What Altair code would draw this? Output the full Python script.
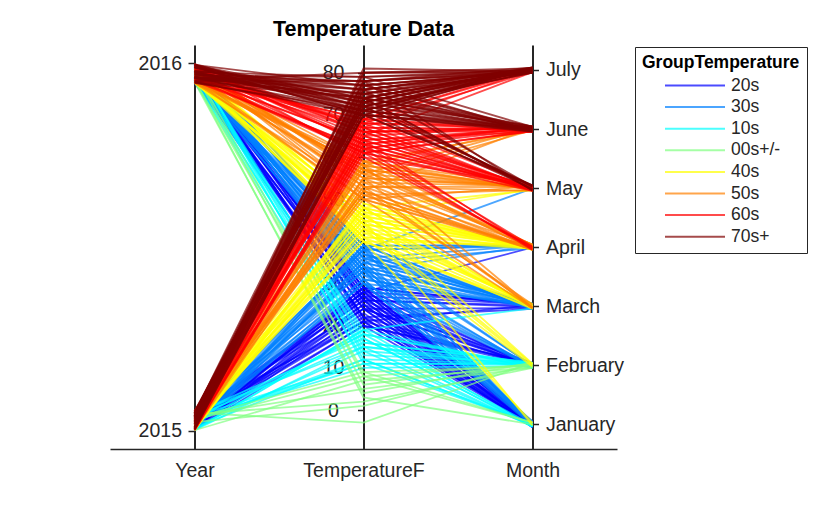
import altair as alt
import pandas as pd
import json

# ---------------- data ----------------
AXES = ["Year", "TemperatureF", "Month"]
MONTHS = ["January", "February", "March", "April", "May", "June", "July"]
GROUPS = ["20s", "30s", "10s", "00s+/-", "40s", "50s", "60s", "70s+"]
COLORS = ["#0000ff", "#0080ff", "#00ffff", "#80ff80", "#ffff00", "#ff8000", "#ff0000", "#800000"]

T2015 = {
    "January":  [28, 22, 35, 18, 31, 25, 12, 27, 40, 20, 33, 15, 24, 30, 8, 26, 21, 29, 17, 34, 23, 11],
    "February": [14, 5, 20, 10, -3, 18, 24, 2, 12, 28, 16, 7, 21, 33, 11, 43, 9, 25, 15, 1, 19, 30],
    "March":    [30, 36, 27, 42, 33, 24, 45, 38, 29, 48, 35, 19, 40, 31, 52, 37, 26, 43, 34, 21, 39, 46],
    "April":    [44, 50, 38, 47, 55, 41, 60, 52, 46, 35, 57, 49, 63, 43, 53, 28, 51, 39, 58, 45, 62, 48],
    "May":      [58, 63, 55, 67, 72, 51, 61, 65, 76, 57, 69, 48, 62, 74, 54, 38, 64, 70, 59, 73, 53, 66],
    "June":     [66, 71, 62, 74, 68, 59, 77, 64, 70, 55, 73, 61, 69, 75, 52, 67, 72, 65, 78, 63, 70, 74],
    "July":     [73, 77, 70, 80, 75, 68, 79, 72, 76, 71, 78, 65, 74, 81, 69, 73, 76, 71, 80, 74, 78, 72],
}
T2016 = {
    "January":  [30, 24, 36, 17, 27, 33, 21, 9, 29, 38, 14, 25, 45, 31, 19, 3, 26, 34, 12, 28, 39, 22],
    "February": [18, 26, 11, 32, 4, 22, 37, 15, 41, 8, 29, 13, 24, 47, 34, 20, 30, 16, 38, 6, 27, 44],
    "March":    [34, 41, 29, 46, 37, 53, 32, 44, 39, 26, 50, 36, 58, 43, 22, 31, 40, 28, 48, 35, 55, 33],
    "April":    [42, 48, 39, 54, 45, 61, 50, 36, 57, 47, 64, 40, 52, 33, 49, 44, 46, 56, 41, 59, 51, 38],
    "May":      [56, 61, 53, 66, 59, 71, 63, 50, 68, 57, 74, 60, 46, 65, 78, 62, 64, 70, 58, 72, 67, 55],
    "June":     [64, 69, 72, 61, 75, 67, 70, 58, 73, 66, 77, 63, 71, 56, 76, 68, 70, 74, 62, 79, 66, 71],
    "July":     [72, 76, 74, 79, 70, 77, 73, 80, 75, 67, 78, 71, 74, 76, 72, 69, 75, 73, 78, 71, 77, 74],
}
# categorical jitter (fractions of one category step)
YEAR_JITTER = [0.012, 0.041, 0.005, 0.033, 0.050, 0.021, 0.008, 0.046,
               0.027, 0.015, 0.038, 0.002, 0.053, 0.019, 0.030, 0.044,
               0.036, 0.010, 0.048, 0.024, 0.004, 0.040]
MONTH_JITTER = [0.02, -0.04, 0.035, -0.01, 0.045, -0.03, 0.0, -0.045,
                0.025, -0.02, 0.04, -0.035, 0.01, -0.025, 0.03, -0.005,
                -0.015, 0.042, -0.038, 0.015, -0.048, 0.005]

YEAR_DOMAIN = [2014.951, 2016.05]
TEMP_DOMAIN = [-9.25, 86.58]
MONTH_DOMAIN = [-0.418, 6.423]
TEMP_TICKS = [0, 10, 20, 30, 40, 50, 60, 70, 80]
YEAR_TICKS = [2015, 2016]


def group_of(t):
    if t < 10:
        return "00s+/-"
    if t >= 70:
        return "70s+"
    return f"{int(t // 10) * 10}s"


def norm(v, dom):
    return (v - dom[0]) / (dom[1] - dom[0])


rows = []
lid = 0
for year, table in ((2015, T2015), (2016, T2016)):
    for mi, month in enumerate(MONTHS):
        for k, t in enumerate(table[month]):
            yj = YEAR_JITTER[k]
            yv = year + yj if year == 2015 else year - yj
            mv = mi + (MONTH_JITTER[k] if year == 2015 else MONTH_JITTER[-1 - k])
            g = group_of(t)
            for xi, (val, dom) in enumerate(((yv, YEAR_DOMAIN), (t, TEMP_DOMAIN), (mv, MONTH_DOMAIN))):
                rows.append({"line": lid, "group": g, "gorder": GROUPS.index(g),
                             "axis": xi, "yn": norm(val, dom)})
            lid += 1

df = pd.DataFrame(rows).sort_values(["gorder", "line", "axis"]).reset_index(drop=True)

FONT = "Liberation Sans, Arial, sans-serif"
INK = "#262626"
W, H = 507, 404

lines = alt.Chart(df).mark_line(strokeWidth=1.8, opacity=0.7).encode(
    x=alt.X("axis:Q",
            scale=alt.Scale(domain=[-0.5, 2.5], nice=False, zero=False),
            axis=alt.Axis(values=[0, 1, 2], labelExpr=json.dumps(AXES) + "[datum.value]",
                          ticks=False, tickSize=0, grid=False, title=None,
                          domainColor=INK, domainWidth=1.3, labelFlush=False,
                          labelFontSize=19.5, labelPadding=12, labelColor=INK, labelFont=FONT)),
    y=alt.Y("yn:Q", scale=alt.Scale(domain=[0, 1], nice=False, zero=False), axis=None),
    color=alt.Color("group:N", scale=alt.Scale(domain=GROUPS, range=COLORS),
                    legend=alt.Legend(title="GroupTemperature", orient="none",
                                      legendX=525, legendY=2, padding=7,
                                      strokeColor=INK, fillColor="white",
                                      symbolType="stroke", symbolSize=3600,
                                      symbolStrokeWidth=2, symbolOpacity=0.7,
                                      symbolOffset=22, labelOffset=5,
                                      clipHeight=17, rowPadding=3.6,
                                      titleFontSize=17.5, titleFontWeight="bold",
                                      titleFont=FONT, titleColor="#000000",
                                      titleAnchor="start", titlePadding=5.5,
                                      titleLimit=400, labelLimit=300,
                                      labelFontSize=17.5, labelFont=FONT, labelColor=INK)),
    detail="line:N",
)

common_axis = dict(title=None, grid=False, tickColor=INK, tickWidth=1.5,
                   domainColor=INK, domainWidth=2, labelColor=INK,
                   labelFont=FONT, labelFontSize=19.5, labelFlush=False,
                   labelOverlap=False)

year_axis = alt.Chart(pd.DataFrame({"v": YEAR_TICKS})).mark_point(opacity=0).encode(
    y=alt.Y("v:Q", scale=alt.Scale(domain=YEAR_DOMAIN, nice=False, zero=False),
            axis=alt.Axis(orient="left", offset=-84.5, values=YEAR_TICKS, format="d",
                          tickSize=6.5, labelPadding=6.5, labelAlign="right", **common_axis)),
)
temp_axis = alt.Chart(pd.DataFrame({"v": TEMP_TICKS})).mark_point(opacity=0).encode(
    y=alt.Y("v:Q", scale=alt.Scale(domain=TEMP_DOMAIN, nice=False, zero=False),
            axis=alt.Axis(orient="left", offset=-253.5, values=TEMP_TICKS, format="d",
                          tickSize=6, labelPadding=24.5, labelAlign="center", **common_axis)),
)
month_axis = alt.Chart(pd.DataFrame({"v": list(range(len(MONTHS)))})).mark_point(opacity=0).encode(
    y=alt.Y("v:Q", scale=alt.Scale(domain=MONTH_DOMAIN, nice=False, zero=False),
            axis=alt.Axis(orient="right", offset=-84.5, values=list(range(len(MONTHS))),
                          labelExpr=json.dumps(MONTHS) + "[datum.value]",
                          tickSize=6, labelPadding=7, labelAlign="left", **common_axis)),
)

# separator under the legend title
sep = alt.Chart(pd.DataFrame({"v": [0]})).mark_rule(color=INK, strokeWidth=1).encode(
    x=alt.value(525), x2=alt.value(697), y=alt.value(27),
)

chart = alt.layer(lines, year_axis, temp_axis, month_axis, sep).resolve_scale(
    y="independent"
).properties(
    width=W, height=H,
    title=alt.TitleParams("Temperature Data", fontSize=21.5, fontWeight="bold", font=FONT,
                          color="#000000", anchor="middle", frame="group",
                          baseline="alphabetic", offset=-12),
    autosize=alt.AutoSizeParams(type="none"),
    padding={"left": 102, "top": 37, "right": 200, "bottom": 40},
).configure_view(stroke=None)

chart.save("out.html", embed_options={"renderer": "svg", "actions": False})
